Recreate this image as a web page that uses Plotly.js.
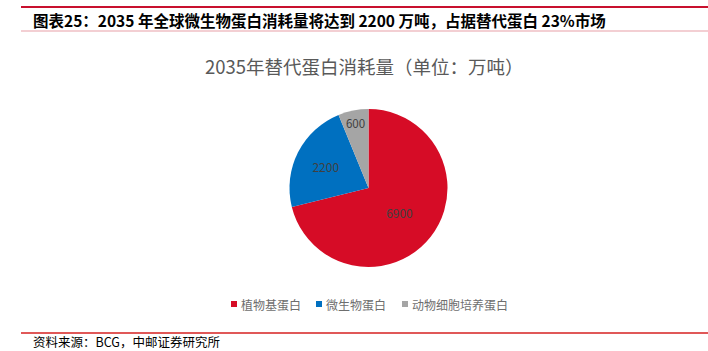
<!DOCTYPE html>
<html><head><meta charset="utf-8">
<script src="https://cdn.plot.ly/plotly-3.0.1.min.js"></script>
<style>html,body{margin:0;padding:0;background:#fff;}#chart{width:708px;height:351px;}</style>
</head><body><div id="chart"></div>
<script>
const categories = ["植物基蛋白", "微生物蛋白", "动物细胞培养蛋白"];
const values = [6900, 2200, 600];
const colors = ["#D60C26", "#0070C0", "#A5A5A5"];
const headerText = "图表25：2035 年全球微生物蛋白消耗量将达到 2200 万吨，占据替代蛋白 23%市场";
const chartTitle = "2035年替代蛋白消耗量（单位：万吨）";
const sourceText = "资料来源：BCG，中邮证券研究所";

const W = 708, H = 351;
const px = x => x / W, py = y => 1 - y / H;
const font = '"Noto Sans CJK SC", "Noto Sans", sans-serif';

// layout-only: left edge of each legend entry's marker (pixels)
const legendStart = [231, 316, 402];
const legendY = 304;

const data = [{
  type: 'pie',
  labels: categories,
  values: values,
  marker: {colors: colors, line: {color: '#ffffff', width: 0}},
  sort: false,
  direction: 'clockwise',
  rotation: 0,
  textinfo: 'value',
  textposition: 'inside',
  insidetextorientation: 'horizontal',
  textfont: {family: font, size: 12, color: '#404040'},
  hoverinfo: 'label+value',
  domain: {x: [px(289), px(448)], y: [py(267), py(109)]}
}];

const shapes = [
  {type: 'line', xref: 'paper', yref: 'paper', x0: px(21), x1: 1, y0: py(7), y1: py(7), line: {color: '#C8102E', width: 2}},
  {type: 'line', xref: 'paper', yref: 'paper', x0: px(21), x1: 1, y0: py(31), y1: py(31), line: {color: '#E8A0A8', width: 1.2}},
  {type: 'line', xref: 'paper', yref: 'paper', x0: px(21), x1: 1, y0: py(333), y1: py(333), line: {color: '#D62020', width: 1.5}}
];
const annotations = [
  {text: '<b>' + headerText + '</b>', xref: 'paper', yref: 'paper', x: px(31), y: py(20), xanchor: 'left', yanchor: 'middle', showarrow: false, font: {family: font, size: 15.5, color: '#000000'}},
  {text: chartTitle, xref: 'paper', yref: 'paper', x: px(364), y: py(66), xanchor: 'center', yanchor: 'middle', showarrow: false, font: {family: font, size: 18.5, color: '#595959'}},
  {text: sourceText, xref: 'paper', yref: 'paper', x: px(31), y: py(341.5), xanchor: 'left', yanchor: 'middle', showarrow: false, font: {family: font, size: 12.5, color: '#000000'}}
];
categories.forEach((c, i) => {
  const x0 = legendStart[i];
  shapes.push({type: 'rect', xref: 'paper', yref: 'paper', x0: px(x0), x1: px(x0 + 6), y0: py(legendY - 3), y1: py(legendY + 3), fillcolor: colors[i], line: {width: 0}});
  annotations.push({text: c, xref: 'paper', yref: 'paper', x: px(x0 + 8), y: py(legendY), xanchor: 'left', yanchor: 'middle', showarrow: false, font: {family: font, size: 12, color: '#6E6E6E'}});
});

const layout = {
  width: W, height: H,
  margin: {l: 0, r: 0, t: 0, b: 0},
  paper_bgcolor: '#ffffff',
  showlegend: false,
  shapes: shapes,
  annotations: annotations
};

Plotly.newPlot('chart', data, layout, {displayModeBar: false, staticPlot: true});
</script></body></html>
